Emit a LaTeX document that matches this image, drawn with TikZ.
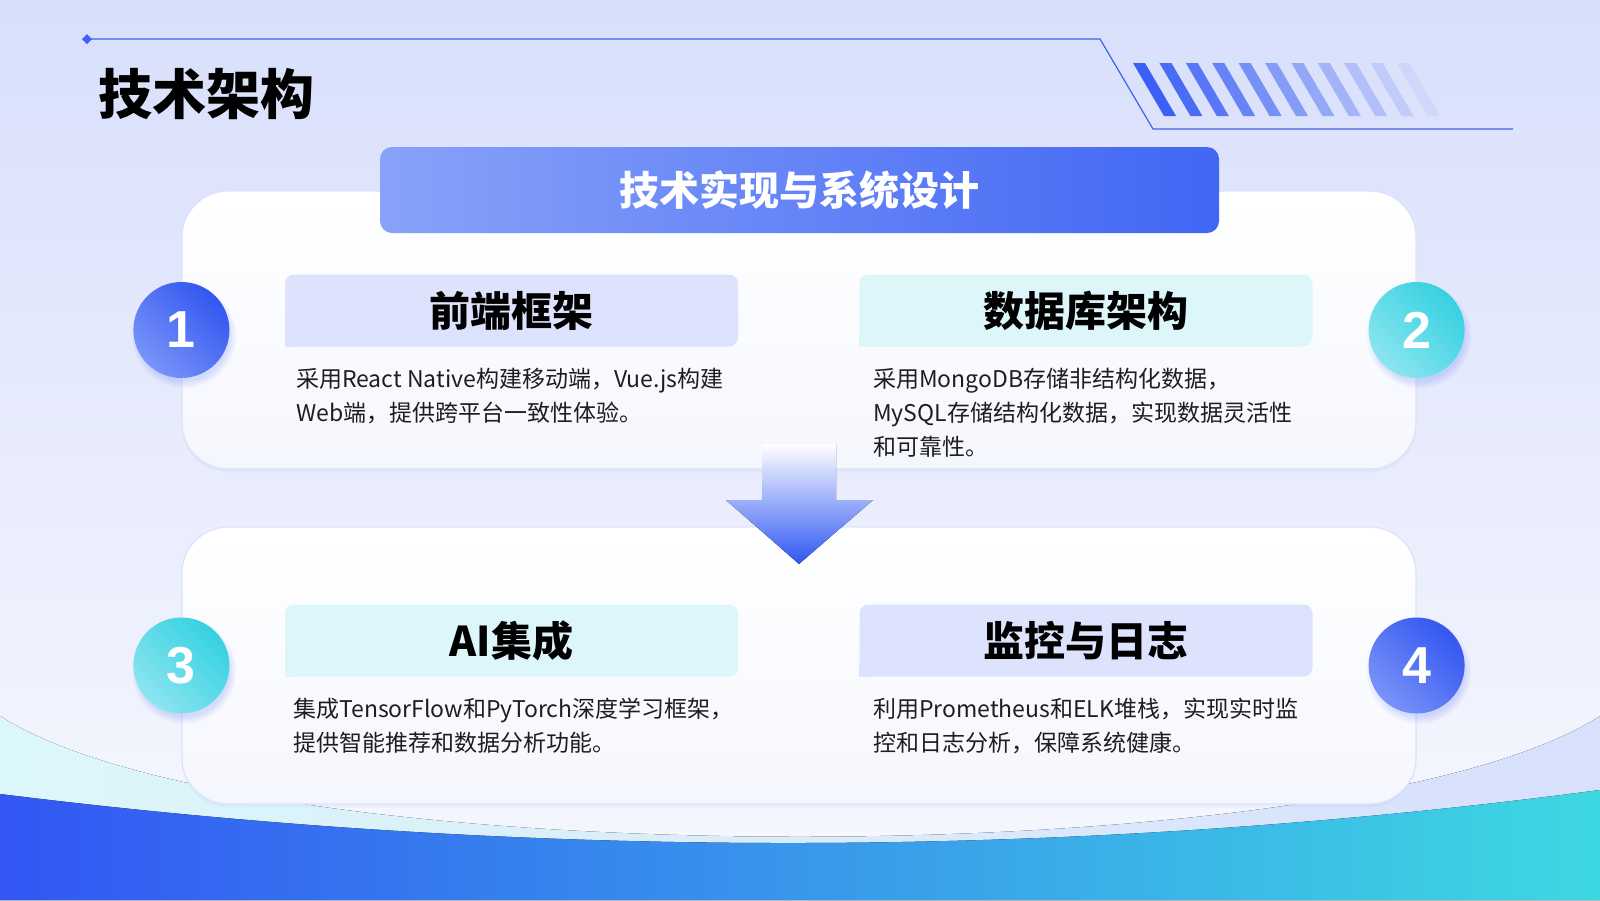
\documentclass[tikz,border=0pt]{standalone}
\usepackage{fontspec}
\setmainfont{Noto Sans CJK SC}
\newfontfamily\numfont{Liberation Sans}
\usetikzlibrary{positioning,shadows,fadings}

\definecolor{bgtop}{HTML}{D8DFFB}
\definecolor{bgbot}{HTML}{F7F8FE}
\definecolor{lineblue}{HTML}{3B62F0}
\definecolor{stripeblue}{HTML}{3A60F5}
\definecolor{barleft}{HTML}{88A2F9}
\definecolor{barright}{HTML}{4166F4}
\definecolor{cardtop}{HTML}{FFFFFF}
\definecolor{cardbot}{HTML}{F5F7FE}
\definecolor{cardline}{HTML}{DCE2FB}
\definecolor{headlav}{HTML}{DDE3FC}
\definecolor{headcyan}{HTML}{DDF6FA}
\definecolor{blueA}{HTML}{7894F7}
\definecolor{blueB}{HTML}{3356F1}
\definecolor{cyanA}{HTML}{8CE5EF}
\definecolor{cyanB}{HTML}{35D1E1}
\definecolor{bandleft}{HTML}{DCF7FA}
\definecolor{bandright}{HTML}{D8E0FB}
\definecolor{waveleft}{HTML}{3356F4}
\definecolor{waveright}{HTML}{3DD8E2}
\definecolor{arrowmid}{HTML}{AEBFFB}
\definecolor{arrowbot}{HTML}{2F56F3}
\definecolor{bodytext}{HTML}{1E1E1E}

\begin{document}
\begin{tikzpicture}[
            x=1pt, y=-1pt,
            card/.style={
                draw=cardline,
                line width=1.2pt,
                rounded corners=46pt,
                top color=cardtop,
                bottom color=cardbot,
                minimum width=1234pt,
                drop shadow={shadow xshift=0pt, shadow yshift=-3pt, fill=blueA, opacity=0.08}
            },
            banner/.style={
                rounded corners=12pt,
                left color=barleft,
                right color=barright,
                minimum width=839pt,
                minimum height=86pt,
                text=white,
                font=\fontsize{40}{44}\selectfont\bfseries
            },
            headbox/.style={
                rounded corners=9pt,
                minimum width=453pt,
                minimum height=72pt,
                inner sep=0pt,
                font=\fontsize{41}{45}\selectfont\bfseries
            },
            numdot/.style={
                circle,
                minimum size=96pt,
                inner sep=0pt,
                text=white,
                font=\numfont\fontsize{52}{52}\selectfont\bfseries,
                circular drop shadow={shadow xshift=2pt, shadow yshift=-5pt, fill=blueB, opacity=0.18}
            },
            bluedot/.style={numdot, left color=blueA, right color=blueB, shading angle=135},
            cyandot/.style={numdot, left color=cyanA, right color=cyanB, shading angle=135},
            bodybox/.style={
                anchor=base west,
                inner sep=0pt,
                align=left,
                text=bodytext,
                font=\fontsize{23}{34.2}\selectfont
            }
        ]
            \useasboundingbox (0,0) rectangle (1600,900);
            \fill[top color=bgtop, bottom color=bgbot] (0,0) rectangle (1600,900);

            \fill[left color=bandleft, right color=bandright]
                (0,716) .. controls (250,877) and (1350,877) .. (1600,716) -- (1600,900) -- (0,900) -- cycle;
            \fill[left color=waveleft, right color=waveright]
                (0,794) .. controls (530,860) and (1070,860) .. (1600,790) -- (1600,900) -- (0,900) -- cycle;

            \draw[lineblue, line width=1.2pt] (87,39) -- (1100,39) -- (1153,129) -- (1513,129);
            \fill[lineblue] (87,34) -- (92,39) -- (87,44) -- (82,39) -- cycle;
            \foreach \i in {0,...,10} {
                \fill[stripeblue, fill opacity={1-0.093*\i}]
                    ({1133+26.4*\i},63) -- ++(12,0) -- ++(31,53) -- ++(-12,0) -- cycle;
            }

            \node[anchor=west, inner sep=0pt, font=\fontsize{54}{58}\selectfont\bfseries] (title) at (98,94) {技术架构};

            \node[card, minimum height=278pt] (upper) at (799,330) {};
            \node[card, minimum height=277pt] (lower) at (799,665.5) {};

            \coordinate (shaftL) at (762,444);
            \coordinate (tip) at (799,564);
            \fill[top color=cardtop, middle color=arrowmid, bottom color=arrowbot]
                (shaftL) -- (836,444) -- (836,500) -- (873,500) -- (tip) -- (726,500) -- (762,500) -- cycle;

            \node[banner] (bar) at (799.5,190) {技术实现与系统设计};

            \node[headbox, fill=headlav] (head1) at (511.5,310.5) {前端框架};
            \node[headbox, fill=headcyan] (head2) at (1086,310.5) {数据库架构};
            \node[headbox, fill=headcyan] (head3) at (511.5,640.5) {AI集成};
            \node[headbox, fill=headlav] (head4) at (1086,640.5) {监控与日志};
            \foreach \h/\c in {head1/headlav, head2/headcyan, head3/headcyan, head4/headlav} {
                \fill[\c] (\h.south west) rectangle ++(12,-12);
            }

            \node[bluedot] (n1) at (upper.west) {1};
            \node[cyandot] (n2) at (upper.east) {2};
            \node[cyandot] (n3) at (lower.west) {3};
            \node[bluedot] (n4) at (lower.east) {4};

            \node[bodybox] (t1) at (296,421.5) {采用React Native构建移动端，Vue.js构建\\Web端，提供跨平台一致性体验。};
            \node[bodybox] (t2) at (873,455.5) {采用MongoDB存储非结构化数据，\\MySQL存储结构化数据，实现数据灵活性\\和可靠性。};
            \node[bodybox] (t3) at (293,751.5) {集成TensorFlow和PyTorch深度学习框架，\\提供智能推荐和数据分析功能。};
            \node[bodybox] (t4) at (873,751.5) {利用Prometheus和ELK堆栈，实现实时监\\控和日志分析，保障系统健康。};
        \end{tikzpicture}
\end{document}
